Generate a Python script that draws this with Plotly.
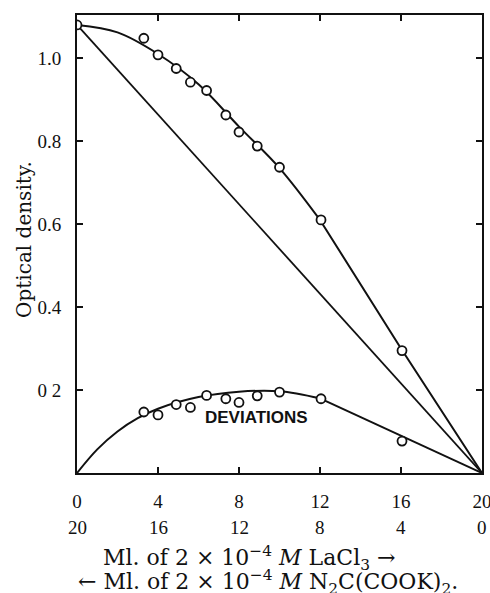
import plotly.graph_objects as go

# ---- data ----
obs_x = [0, 3.3, 4.0, 4.9, 5.6, 6.4, 7.35, 8.0, 8.9, 10.0, 12.05, 16.05]
obs_y = [1.08, 1.048, 1.008, 0.975, 0.942, 0.922, 0.863, 0.822, 0.788, 0.737, 0.61, 0.295]

fit_curve_x = [0, 2, 4, 6, 8, 10, 12]
fit_curve_y = [1.08, 1.062, 1.01, 0.937, 0.835, 0.735, 0.61]
fit_line_x = [12, 16, 20]
fit_line_y = [0.61, 0.30, 0.0]

ideal_x = [0, 20]
ideal_y = [1.08, 0.0]

dev_x = [3.3, 4.0, 4.9, 5.6, 6.4, 7.35, 8.0, 8.9, 10.0, 12.05, 16.05]
dev_y = [0.147, 0.14, 0.165, 0.158, 0.187, 0.179, 0.17, 0.186, 0.195, 0.179, 0.077]

dev_curve_x = [0, 1, 2, 3, 4, 6, 8, 10, 12]
dev_curve_y = [0.0, 0.057, 0.1, 0.132, 0.155, 0.183, 0.196, 0.197, 0.18]
dev_line_x = [12, 20]
dev_line_y = [0.18, 0.0]

xtick_vals = [0, 4, 8, 12, 16, 20]
xtick_top = ["0", "4", "8", "12", "16", "20"]
xtick_bottom = ["20", "16", "12", "8", "4", "0"]
ytick_vals = [0.2, 0.4, 0.6, 0.8, 1.0]
ytick_text = ["0 2", "0.4", "0.6", "0.8", "1.0"]

SERIF = "Liberation Serif"
WIDE_SERIF = "DejaVu Serif"
INK = "#111111"

fig = go.Figure()
line_style = dict(color=INK, width=2)
fig.add_trace(go.Scatter(x=ideal_x, y=ideal_y, mode="lines", line=dict(color=INK, width=1.8)))
fig.add_trace(go.Scatter(x=fit_curve_x, y=fit_curve_y, mode="lines", line=dict(shape="spline", **line_style)))
fig.add_trace(go.Scatter(x=fit_line_x, y=fit_line_y, mode="lines", line=line_style))
fig.add_trace(go.Scatter(x=dev_curve_x, y=dev_curve_y, mode="lines", line=dict(shape="spline", **line_style)))
fig.add_trace(go.Scatter(x=dev_line_x, y=dev_line_y, mode="lines", line=line_style))

marker = dict(symbol="circle", size=9, color="white", line=dict(color=INK, width=1.8))
fig.add_trace(go.Scatter(x=obs_x, y=obs_y, mode="markers", marker=marker))
fig.add_trace(go.Scatter(x=dev_x, y=dev_y, mode="markers", marker=marker))

fig.add_annotation(x=8.85, y=0.133, text="<b>DEVIATIONS</b>", showarrow=False,
                   font=dict(family="Liberation Sans", size=17, color=INK))

# second row of x tick labels
for xv, t in zip(xtick_vals, xtick_bottom):
    fig.add_annotation(x=xv, y=0, yref="y", text=t, showarrow=False, yshift=-54,
                       font=dict(family=SERIF, size=19, color=INK))

fig.add_annotation(x=8.5, y=0, text="Ml. of 2 × 10<sup>−4</sup> <i>M</i> LaCl<sub>3</sub> →",
                   showarrow=False, yshift=-85, font=dict(family=WIDE_SERIF, size=22, color=INK))
fig.add_annotation(x=9.45, y=0, text="← Ml. of 2 × 10<sup>−4</sup> <i>M</i> N<sub>2</sub>C(COOK)<sub>2</sub>.",
                   showarrow=False, yshift=-109, font=dict(family=WIDE_SERIF, size=22, color=INK))

fig.add_annotation(xref="paper", yref="paper", x=-0.131, y=0.511, xanchor="center", yanchor="middle",
                   text="Optical density.", textangle=-90, showarrow=False,
                   font=dict(family=WIDE_SERIF, size=20, color=INK))

fig.update_layout(
    width=490, height=593,
    margin=dict(l=77, r=8, t=15, b=120, autoexpand=False),
    paper_bgcolor="white", plot_bgcolor="white",
    showlegend=False,
    xaxis=dict(range=[0, 20], tickvals=xtick_vals, ticktext=xtick_top,
               ticks="inside", ticklen=6, tickwidth=2, tickcolor=INK,
               showline=True, linewidth=2, linecolor=INK, mirror="ticks",
               showgrid=False, zeroline=False, ticklabelstandoff=10,
               ticklabeloverflow="allow", automargin=False,
               tickfont=dict(family=SERIF, size=19, color=INK)),
    yaxis=dict(range=[0, 1.104], tickvals=ytick_vals, ticktext=ytick_text,
               ticks="inside", ticklen=6, tickwidth=2, tickcolor=INK,
               showline=True, linewidth=2, linecolor=INK, mirror="ticks",
               showgrid=False, zeroline=False, ticklabelstandoff=10,
               automargin=False,
               tickfont=dict(family=SERIF, size=19, color=INK)),
)

fig.write_html("out.html")
